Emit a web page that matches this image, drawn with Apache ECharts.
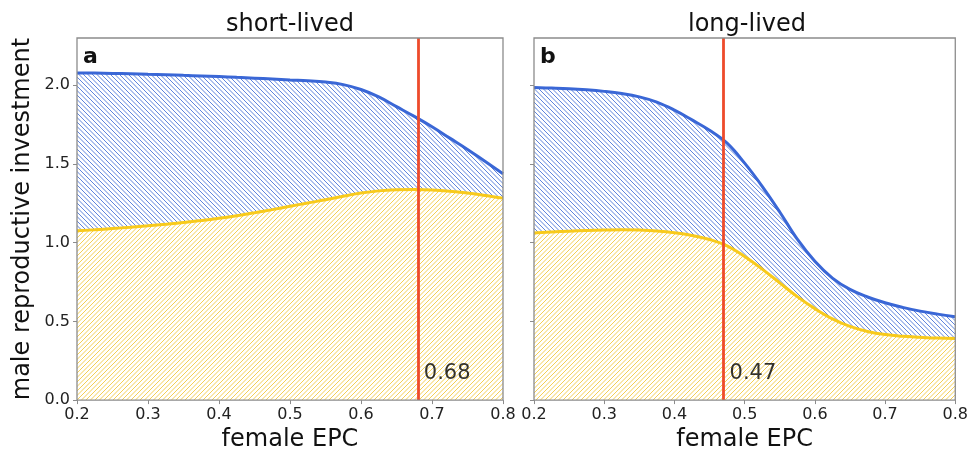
<!DOCTYPE html>
<html>
<head>
<meta charset="utf-8">
<script src="https://cdn.jsdelivr.net/npm/echarts@6/dist/echarts.min.js"></script>
<style>
  html, body { margin: 0; padding: 0; background: #fff; }
  #chart { width: 971px; height: 457px; }
</style>
</head>
<body>
<div id="chart"></div>
<script>
// female EPC samples shared by every curve
const epc = [0.2, 0.225, 0.25, 0.275, 0.3, 0.325, 0.35, 0.375, 0.4, 0.425, 0.45, 0.475, 0.5,
             0.525, 0.55, 0.575, 0.6, 0.625, 0.65, 0.675, 0.7, 0.725, 0.75, 0.775, 0.8];

// short-lived: upper (blue) and lower (yellow) male investment
const shortUpper = [2.078, 2.077, 2.075, 2.073, 2.070, 2.067, 2.063, 2.059, 2.055, 2.050, 2.045, 2.039, 2.033,
                    2.028, 2.020, 2.004, 1.973, 1.926, 1.864, 1.802, 1.736, 1.664, 1.592, 1.515, 1.438];
const shortLower = [1.075, 1.082, 1.090, 1.098, 1.107, 1.117, 1.128, 1.141, 1.155, 1.171, 1.190, 1.210, 1.231,
                    1.252, 1.272, 1.295, 1.315, 1.329, 1.336, 1.338, 1.335, 1.327, 1.315, 1.300, 1.283];

// long-lived
const longUpper = [1.985, 1.982, 1.978, 1.971, 1.961, 1.947, 1.926, 1.893, 1.842, 1.780, 1.714, 1.632, 1.505,
                   1.358, 1.195, 1.022, 0.882, 0.775, 0.703, 0.655, 0.618, 0.589, 0.565, 0.546, 0.530];
const longLower = [1.062, 1.068, 1.073, 1.077, 1.080, 1.082, 1.080, 1.074, 1.063, 1.046, 1.020, 0.980, 0.912,
                   0.832, 0.745, 0.657, 0.581, 0.516, 0.468, 0.436, 0.416, 0.405, 0.399, 0.394, 0.391];

// threshold EPC marked in each panel
const shortCut = 0.68;
const longCut = 0.47;

const xTicks = [0.2, 0.3, 0.4, 0.5, 0.6, 0.7, 0.8];
const yTicks = [0.0, 0.5, 1.0, 1.5, 2.0];

const panelTitles = ['short-lived', 'long-lived'];
const panelLetters = ['a', 'b'];

const FONT = 'DejaVu Sans';
const BLUE = '#3a67d6';
const YELLOW = '#f8ca1c';
const RED = '#ee4b2b';
const FRAME = '#8c8c8c';

// diagonal hatch tile; dir = 1 for "\" lines, -1 for "/" lines
function hatch(color, dir, bg) {
  const s = 9, n = 2;
  const c = document.createElement('canvas');
  c.width = s; c.height = s;
  const g = c.getContext('2d');
  if (bg) { g.fillStyle = bg; g.fillRect(0, 0, s, s); }
  g.strokeStyle = color;
  g.lineWidth = 1;
  g.beginPath();
  for (let k = -n; k <= 2 * n; k++) {
    const o = k * s / n;
    if (dir > 0) { g.moveTo(o, 0); g.lineTo(o + s, s); }
    else { g.moveTo(o, s); g.lineTo(o + s, 0); }
  }
  g.stroke();
  return { image: c, repeat: 'repeat' };
}

const blueHatch = hatch('#5f84dc', 1, null);
const yellowHatch = hatch('#f4cf55', -1, '#ffffff');

const pairs = (ys) => epc.map((x, i) => [x, ys[i]]);

const grids = [
  { left: 77, right: 468, top: 38, bottom: 56 },
  { left: 534, right: 11, top: 38, bottom: 56 }
];

function xAxisFor(i) {
  return {
    type: 'value', gridIndex: i, min: 0.2, max: 0.8,
    name: 'female EPC', nameLocation: 'middle', nameGap: 27,
    nameTextStyle: { fontFamily: FONT, fontSize: 24, color: '#111' },
    axisLine: { show: false },
    splitLine: { show: false },
    axisTick: { show: true, length: 4, lineStyle: { color: FRAME }, customValues: xTicks },
    axisLabel: { fontFamily: FONT, fontSize: 16, color: '#222', margin: 7,
      customValues: xTicks, formatter: v => v.toFixed(1) }
  };
}

function yAxisFor(i) {
  return {
    type: 'value', gridIndex: i, min: 0, max: 2.3,
    name: i === 0 ? 'male reproductive investment' : '',
    nameLocation: 'middle', nameGap: 42,
    nameTextStyle: { fontFamily: FONT, fontSize: 24, color: '#111' },
    axisLine: { show: false },
    splitLine: { show: false },
    axisTick: { show: true, length: 4, lineStyle: { color: FRAME }, customValues: yTicks },
    axisLabel: { show: i === 0, fontFamily: FONT, fontSize: 16, color: '#222', margin: 7,
      customValues: yTicks, formatter: v => v.toFixed(1) }
  };
}

function panelSeries(i, upper, lower, cut) {
  return [
    {
      type: 'line', xAxisIndex: i, yAxisIndex: i, data: pairs(upper),
      smooth: 0.4, showSymbol: false, z: 2,
      lineStyle: { color: BLUE, width: 3 },
      areaStyle: { color: blueHatch, opacity: 1, origin: 'start' }
    },
    {
      type: 'line', xAxisIndex: i, yAxisIndex: i, data: pairs(lower),
      smooth: 0.4, showSymbol: false, z: 3,
      lineStyle: { color: YELLOW, width: 3 },
      areaStyle: { color: yellowHatch, opacity: 1, origin: 'start' }
    },
    {
      type: 'scatter', xAxisIndex: i, yAxisIndex: i, z: 5,
      data: [[cut, 0.17]], symbolSize: 0, silent: true,
      label: { show: true, position: 'right', distance: 6,
        fontFamily: FONT, fontSize: 21, color: '#000',
        formatter: p => p.value[0].toFixed(2) },
      markLine: {
        silent: true, symbol: 'none', z: 5,
        label: { show: false },
        lineStyle: { color: RED, width: 2.8, type: 'solid' },
        data: [{ xAxis: cut }]
      }
    }
  ];
}

const graphics = [];
grids.forEach((g, i) => {
  const left = g.left, right = 971 - g.right;
  graphics.push({
    type: 'text', z: 10,
    style: { text: panelTitles[i], x: (left + right) / 2, y: 25, align: 'center',
      verticalAlign: 'middle', font: '24px "' + FONT + '"', fill: '#111' }
  });
  graphics.push({
    type: 'text', z: 10,
    style: { text: panelLetters[i], x: left + 6, y: 57, align: 'left',
      verticalAlign: 'middle', font: 'bold 22px "' + FONT + '"', fill: '#111' }
  });
});

const chart = echarts.init(document.getElementById('chart'), null, { renderer: 'canvas' });
chart.setOption({
  animation: false,
  backgroundColor: '#fff',
  grid: grids.map(g => Object.assign({ show: true, borderColor: FRAME, borderWidth: 1.3,
    backgroundColor: 'transparent', z: 6 }, g)),
  xAxis: [xAxisFor(0), xAxisFor(1)],
  yAxis: [yAxisFor(0), yAxisFor(1)],
  series: [
    ...panelSeries(0, shortUpper, shortLower, shortCut),
    ...panelSeries(1, longUpper, longLower, longCut)
  ],
  graphic: graphics
});
</script>
</body>
</html>
